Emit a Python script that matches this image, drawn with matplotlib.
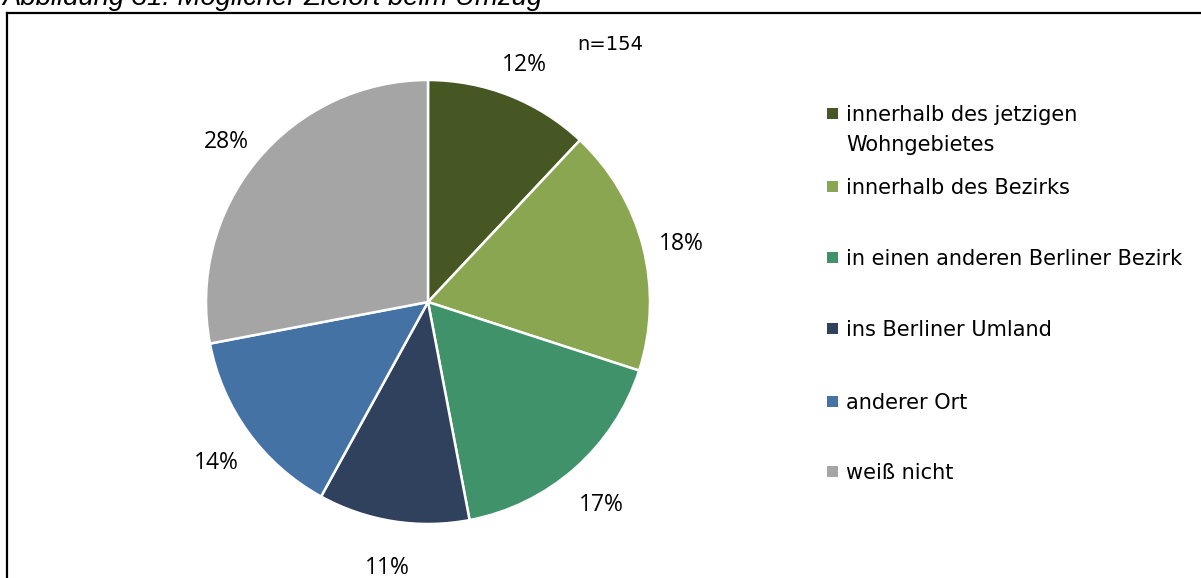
#!/usr/bin/env python3
"""Pie chart: Möglicher Zielort beim Umzug (n=154)."""

import matplotlib

matplotlib.use("Agg")
import matplotlib.pyplot as plt
from matplotlib.lines import Line2D
from matplotlib.patches import Rectangle
from matplotlib.transforms import offset_copy

W, H = 1201, 578

categories = [
    "innerhalb des jetzigen\nWohngebietes",
    "innerhalb des Bezirks",
    "in einen anderen Berliner Bezirk",
    "ins Berliner Umland",
    "anderer Ort",
    "weiß nicht",
]
shares = [12, 18, 17, 11, 14, 28]
colors = ["#475724", "#8AA650", "#40926A", "#30415D", "#4472A5", "#A5A5A5"]
title = "Abbildung 31: Möglicher Zielort beim Umzug"
n_note = "n=154"


def fx(x):
    return x / W


def fy(y):
    return 1 - y / H


fig = plt.figure(figsize=(W / 100, H / 100), dpi=100)

# outer frame (cut by the screenshot on the right and bottom)
fig.add_artist(Line2D([fx(7), fx(7)], [fy(13), fy(H + 5)], color="black", lw=1.6))
fig.add_artist(Line2D([fx(7), fx(W + 5)], [fy(13), fy(13)], color="black", lw=1.6))

# caption, cut at the top edge as in the screenshot
fig.text(fx(2), fy(5), title, fontsize=19.8, family="Liberation Sans",
         style="italic", va="baseline", ha="left")

# pie
cx, cy, r = 428, 302, 222
ax = fig.add_axes([fx(cx - r), fy(cy + r), 2 * r / W, 2 * r / H])
wedges, texts = ax.pie(
    shares,
    colors=colors,
    startangle=90,
    counterclock=False,
    labels=[f"{v}%" for v in shares],
    labeldistance=1.18,
    wedgeprops=dict(edgecolor="white", linewidth=1.8),
    textprops=dict(fontsize=16.5, family="Open Sans", color="black"),
)
for t in texts:
    t.set_ha("center")
    t.set_va("center")
    # data labels sit a little lower than the plain radial position
    t.set_transform(offset_copy(ax.transData, fig=fig, x=0, y=-7, units="dots"))
ax.set_xlim(-1, 1)
ax.set_ylim(-1, 1)
ax.set_axis_off()

fig.text(fx(577), fy(45), n_note, fontsize=14, family="DejaVu Sans",
         va="center", ha="left", color="black")

# legend, one line of text at a time so the marker sits on the first line
leg_y = [113, 186, 257, 328, 401, 471]
line_gap = 30
for lab, col, y in zip(categories, colors, leg_y):
    fig.add_artist(Rectangle((fx(827), fy(y + 5.5)), 11 / W, 11 / H,
                             facecolor=col, edgecolor="none"))
    for i, line in enumerate(lab.split("\n")):
        fig.text(fx(846), fy(y + i * line_gap), line, fontsize=15,
                 family="DejaVu Sans", va="center_baseline", ha="left",
                 color="black")

fig.savefig("out.png", dpi=100)
